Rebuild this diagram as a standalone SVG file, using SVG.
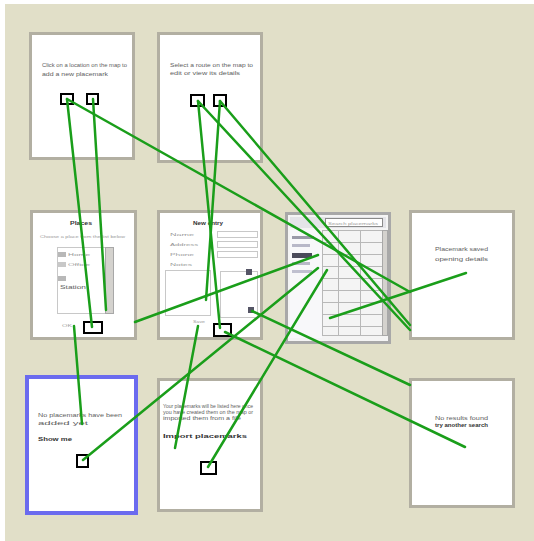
<svg xmlns="http://www.w3.org/2000/svg" width="534" height="541" viewBox="0 0 534 541">
  <style>
    .card { fill: #ffffff; stroke: #b2afa2; stroke-width: 3; }
    .sel { fill: #ffffff; stroke: #6b6bef; stroke-width: 4; }
    .t { font-family: "Liberation Sans", Arial, sans-serif; font-size: 4.5px; fill: #606060; }
    .tl { font-family: "Liberation Sans", Arial, sans-serif; font-size: 4px; fill: #9a9a9a; }
    .tb { font-family: "Liberation Sans", Arial, sans-serif; font-size: 4.5px; fill: #333333; font-weight: bold; }
    .hot { fill: none; stroke: #000000; stroke-width: 2; }
    .soft { fill: #ffffff; stroke: #c8c8c8; stroke-width: 1; }
    .bar { fill: #d4d2ce; stroke: #a8a8a8; stroke-width: 1; }
    .grid { stroke: #b8b8b8; stroke-width: 1; fill: none; }
    .link { stroke: #1a9e1a; stroke-width: 2.5; fill: none; stroke-linecap: round; }
  </style>

  <!-- page backdrop -->
  <rect x="0" y="0" width="534" height="541" fill="#ffffff"/>
  <rect x="5" y="4" width="529" height="537" fill="#e1dfc8"/>

  <!-- top row -->
  <g id="screen-a">
    <rect class="card" x="30.5" y="33.5" width="103" height="125"/>
    <text class="t" x="42" y="67" textLength="85" lengthAdjust="spacingAndGlyphs">Click on a location on the map to</text>
    <text class="t" x="42" y="76" textLength="66" lengthAdjust="spacingAndGlyphs">add a new placemark</text>
    <rect class="hot" x="61" y="94" width="12" height="10"/>
    <rect class="hot" x="87" y="94" width="11" height="10"/>
  </g>

  <g id="screen-b">
    <rect class="card" x="158.5" y="33.5" width="103" height="128"/>
    <text class="t" x="170" y="67" textLength="83" lengthAdjust="spacingAndGlyphs">Select a route on the map to</text>
    <text class="t" x="170" y="75" textLength="70" lengthAdjust="spacingAndGlyphs">edit or view its details</text>
    <rect class="hot" x="191" y="95" width="13" height="11"/>
    <rect class="hot" x="214" y="95" width="12" height="11"/>
  </g>

  <!-- middle row -->
  <g id="screen-c">
    <rect class="card" x="31.5" y="211.5" width="104" height="127"/>
    <text class="tb" x="70" y="225" textLength="22" lengthAdjust="spacingAndGlyphs">Places</text>
    <text class="tl" x="40" y="238" textLength="85" lengthAdjust="spacingAndGlyphs">Choose a place from the list below</text>
    <rect class="soft" x="57.5" y="247.5" width="56" height="66" stroke="#a0a0a0"/>
    <rect class="bar" x="105.5" y="247.5" width="8" height="66"/>
    <rect x="58" y="252" width="8" height="5" fill="#b8b8b8"/>
    <rect x="58" y="262" width="8" height="5" fill="#c8c8c8"/>
    <rect x="58" y="276" width="8" height="5" fill="#b8b8b8"/>
    <text class="tl" x="68" y="256" textLength="22" lengthAdjust="spacingAndGlyphs">Home</text>
    <text class="tl" x="68" y="266" textLength="22" lengthAdjust="spacingAndGlyphs">Office</text>
    <text class="t" x="60" y="289" textLength="26" lengthAdjust="spacingAndGlyphs">Station</text>
    <text class="tl" x="62" y="327" textLength="10" lengthAdjust="spacingAndGlyphs">OK</text>
    <rect class="hot" x="84" y="322" width="18" height="11"/>
  </g>

  <g id="screen-d">
    <rect class="card" x="158.5" y="211.5" width="103" height="127"/>
    <text class="tb" x="193" y="225" textLength="30" lengthAdjust="spacingAndGlyphs">New entry</text>
    <text class="tl" x="170" y="236" textLength="24" lengthAdjust="spacingAndGlyphs">Name</text>
    <text class="tl" x="170" y="246" textLength="28" lengthAdjust="spacingAndGlyphs">Address</text>
    <text class="tl" x="170" y="256" textLength="24" lengthAdjust="spacingAndGlyphs">Phone</text>
    <text class="tl" x="170" y="266" textLength="22" lengthAdjust="spacingAndGlyphs">Notes</text>
    <rect class="soft" x="217.5" y="231.5" width="40" height="6"/>
    <rect class="soft" x="217.5" y="241.5" width="40" height="6"/>
    <rect class="soft" x="217.5" y="251.5" width="40" height="6"/>
    <rect class="soft" x="165.5" y="270.5" width="45" height="45" stroke="#a8a8b8"/>
    <rect class="soft" x="220.5" y="271.5" width="37" height="46" stroke="#b0b0b0"/>
    <rect x="246" y="269" width="6" height="6" fill="#555566"/>
    <rect x="248" y="307" width="6" height="6" fill="#555566"/>
    <text class="tl" x="193" y="323" textLength="12" lengthAdjust="spacingAndGlyphs">Save</text>
    <rect class="hot" x="214" y="324" width="17" height="12"/>
  </g>

  <g id="screen-e">
    <rect x="286.5" y="213.5" width="103" height="129" fill="#f4f4f4" stroke="#a8a8a8" stroke-width="3"/>
    <rect x="290" y="217" width="96" height="11" fill="#e4e4e8"/>
    <rect x="325.5" y="218.5" width="57" height="8" fill="#ffffff" stroke="#8a8a8a" stroke-width="1"/>
    <text class="tl" x="328" y="224.5" textLength="50" lengthAdjust="spacingAndGlyphs">Search placemarks</text>
    <rect x="290" y="230" width="32" height="108" fill="#f8f8fa"/>
    <rect x="292" y="236" width="22" height="3" fill="#9a9aa8"/>
    <rect x="292" y="244" width="18" height="3" fill="#b8b8c8"/>
    <rect x="292" y="253" width="20" height="5" fill="#4a4a5a"/>
    <rect x="292" y="262" width="18" height="3" fill="#b8b8c8"/>
    <rect x="292" y="270" width="20" height="3" fill="#c0c0d0"/>
    <g class="grid">
      <rect x="322.5" y="230.5" width="60" height="105"/>
      <line x1="338.5" y1="230" x2="338.5" y2="336"/>
      <line x1="360.5" y1="230" x2="360.5" y2="336"/>
      <line x1="322" y1="242.5" x2="383" y2="242.5"/>
      <line x1="322" y1="254.5" x2="383" y2="254.5"/>
      <line x1="322" y1="266.5" x2="383" y2="266.5"/>
      <line x1="322" y1="278.5" x2="383" y2="278.5"/>
      <line x1="322" y1="290.5" x2="383" y2="290.5"/>
      <line x1="322" y1="302.5" x2="383" y2="302.5"/>
      <line x1="322" y1="314.5" x2="383" y2="314.5"/>
      <line x1="322" y1="326.5" x2="383" y2="326.5"/>
    </g>
    <rect class="bar" x="382.5" y="230.5" width="5" height="105"/>
  </g>

  <g id="screen-f">
    <rect class="card" x="410.5" y="211.5" width="103" height="127"/>
    <text class="t" x="435" y="251" textLength="53" lengthAdjust="spacingAndGlyphs">Placemark saved</text>
    <text class="t" x="435" y="261" textLength="53" lengthAdjust="spacingAndGlyphs">opening details</text>
  </g>

  <!-- bottom row -->
  <g id="screen-g">
    <rect class="sel" x="27" y="377" width="109" height="136"/>
    <text class="t" x="38" y="417" textLength="84" lengthAdjust="spacingAndGlyphs">No placemarks have been</text>
    <text class="t" x="38" y="425" textLength="50" lengthAdjust="spacingAndGlyphs">added yet</text>
    <text class="tb" x="38" y="441" textLength="34" lengthAdjust="spacingAndGlyphs">Show me</text>
    <rect class="hot" x="77" y="455" width="11" height="12"/>
  </g>

  <g id="screen-h">
    <rect class="card" x="158.5" y="379.5" width="103" height="131"/>
    <text class="t" x="163" y="408" textLength="90" lengthAdjust="spacingAndGlyphs">Your placemarks will be listed here once</text>
    <text class="t" x="163" y="414" textLength="90" lengthAdjust="spacingAndGlyphs">you have created them on the map or</text>
    <text class="t" x="163" y="420" textLength="78" lengthAdjust="spacingAndGlyphs">imported them from a file</text>
    <text class="tb" x="163" y="438" textLength="84" lengthAdjust="spacingAndGlyphs">Import placemarks</text>
    <rect class="hot" x="201" y="462" width="15" height="12"/>
  </g>

  <g id="screen-i">
    <rect class="card" x="410.5" y="379.5" width="103" height="127"/>
    <text class="t" x="435" y="420" textLength="53" lengthAdjust="spacingAndGlyphs">No results found</text>
    <text class="tb" x="435" y="427" textLength="53" lengthAdjust="spacingAndGlyphs">try another search</text>
  </g>

  <!-- hotspot links -->
  <g id="links">
    <line class="link" x1="67" y1="99" x2="92" y2="327"/>
    <line class="link" x1="93" y1="99" x2="106" y2="310"/>
    <line class="link" x1="67" y1="99" x2="410" y2="292"/>
    <line class="link" x1="198" y1="101" x2="220" y2="328"/>
    <line class="link" x1="220" y1="101" x2="206" y2="300"/>
    <line class="link" x1="198" y1="101" x2="410" y2="330"/>
    <line class="link" x1="220" y1="101" x2="410" y2="325"/>
    <line class="link" x1="135" y1="322" x2="318" y2="255"/>
    <line class="link" x1="74" y1="326" x2="82" y2="424"/>
    <line class="link" x1="83" y1="460" x2="318" y2="268"/>
    <line class="link" x1="208" y1="467" x2="327" y2="270"/>
    <line class="link" x1="175" y1="448" x2="198" y2="326"/>
    <line class="link" x1="330" y1="318" x2="466" y2="273"/>
    <line class="link" x1="225" y1="332" x2="465" y2="447"/>
    <line class="link" x1="252" y1="311" x2="410" y2="385"/>
  </g>
</svg>
